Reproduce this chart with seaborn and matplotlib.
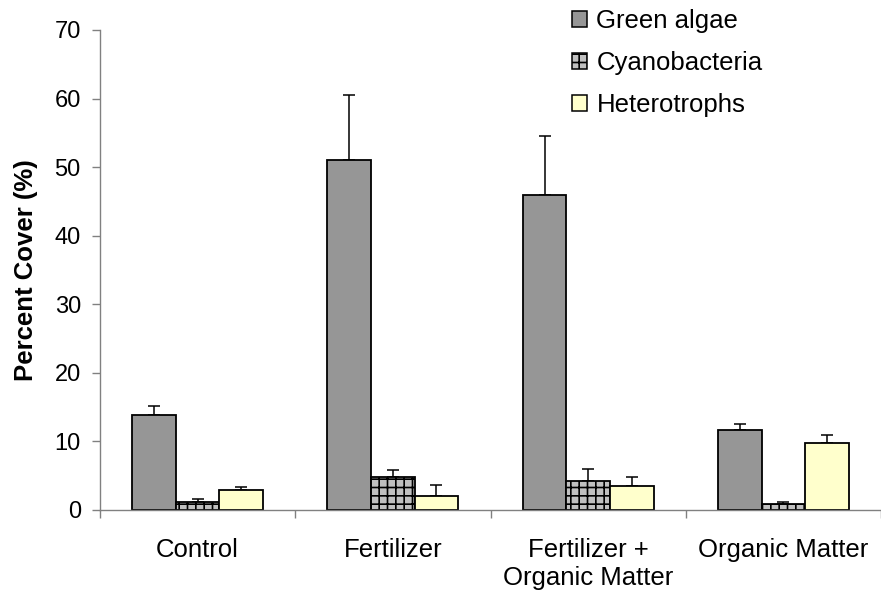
import numpy as np
import pandas as pd
import matplotlib
matplotlib.use("Agg")
import matplotlib.pyplot as plt
from matplotlib.patches import Patch
import seaborn as sns

treatments = ["Control", "Fertilizer", "Fertilizer +\nOrganic Matter", "Organic Matter"]
groups = ["Green algae", "Cyanobacteria", "Heterotrophs"]

green = [13.9, 51.0, 46.0, 11.7]
green_err = [1.3, 9.5, 8.6, 0.8]
cyano = [1.2, 4.8, 4.3, 0.9]
cyano_err = [0.45, 1.05, 1.7, 0.3]
hetero = [2.9, 2.1, 3.55, 9.75]
hetero_err = [0.45, 1.5, 1.3, 1.25]

colors = {"Green algae": "#969696", "Cyanobacteria": "#c0c0c0", "Heterotrophs": "#ffffcc"}

df = pd.DataFrame({
    "Treatment": treatments * 3,
    "Group": np.repeat(groups, len(treatments)),
    "Cover": green + cyano + hetero,
    "Err": green_err + cyano_err + hetero_err,
})

sns.set_style("white")
plt.rcParams["font.family"] = ["Liberation Sans", "DejaVu Sans"]
plt.rcParams["text.color"] = "black"
plt.rcParams["axes.labelcolor"] = "black"
plt.rcParams["xtick.color"] = "black"
plt.rcParams["ytick.color"] = "black"
plt.rcParams["hatch.color"] = "#404040"
plt.rcParams["hatch.linewidth"] = 1.2

fig = plt.figure(figsize=(8.81, 5.99), dpi=100)
ax = fig.add_axes([100 / 881, 1 - 510 / 599, 781 / 881, 480 / 599])

sns.barplot(data=df, x="Treatment", y="Cover", hue="Group", order=treatments,
            hue_order=groups, palette=colors, saturation=1, width=0.67,
            edgecolor="black", linewidth=1.3, errorbar=None, legend=False, ax=ax)

# upper error bars, placed on the drawn bars (lower cap hidden behind bar edge)
for cont, g in zip(ax.containers, groups):
    sub = df[df["Group"] == g].set_index("Treatment").loc[treatments]
    xs = [p.get_x() + p.get_width() / 2 for p in cont.patches]
    ax.errorbar(xs, sub["Cover"], yerr=[np.zeros(len(xs)), sub["Err"]],
                fmt="none", ecolor="black", elinewidth=1.1, capsize=4.3,
                capthick=1.1, zorder=0.5)
    if g == "Cyanobacteria":
        for p in cont.patches:
            p.set_hatch("++")

ax.set_ylim(0, 70)
ax.set_xlim(-0.5, 3.475)
ax.set_yticks(range(0, 71, 10))
ax.set_xticks(np.arange(-0.5, 4, 1), minor=True)
ax.tick_params(axis="y", direction="out", length=5.8, width=1, color="#808080",
               labelcolor="black", labelsize=17, pad=8, left=True)
ax.tick_params(axis="x", which="major", length=0, labelsize=18.5, pad=20,
               labelcolor="black")
ax.tick_params(axis="x", which="minor", direction="out", length=5.8, width=1,
               color="#808080", bottom=True)

for s in ["top", "right"]:
    ax.spines[s].set_visible(False)
for s in ["left", "bottom"]:
    ax.spines[s].set_color("#808080")
    ax.spines[s].set_linewidth(1)

ax.set_xlabel("")
ax.set_ylabel("Percent Cover (%)", fontsize=18.5, fontweight="bold", color="black")
ax.yaxis.set_label_coords(-0.08, 0.5)

handles = [Patch(facecolor=colors[g], edgecolor="black", linewidth=1.1,
                 hatch="++" if g == "Cyanobacteria" else None) for g in groups]
fig.legend(handles, groups, loc="upper left", bbox_to_anchor=(572 / 881, 1 - 9 / 599),
           frameon=False, fontsize=18.5, handlelength=0.6, handleheight=0.6,
           handletextpad=0.35, labelspacing=0.7, borderpad=0, borderaxespad=0)

fig.savefig("out.png", dpi=100)
